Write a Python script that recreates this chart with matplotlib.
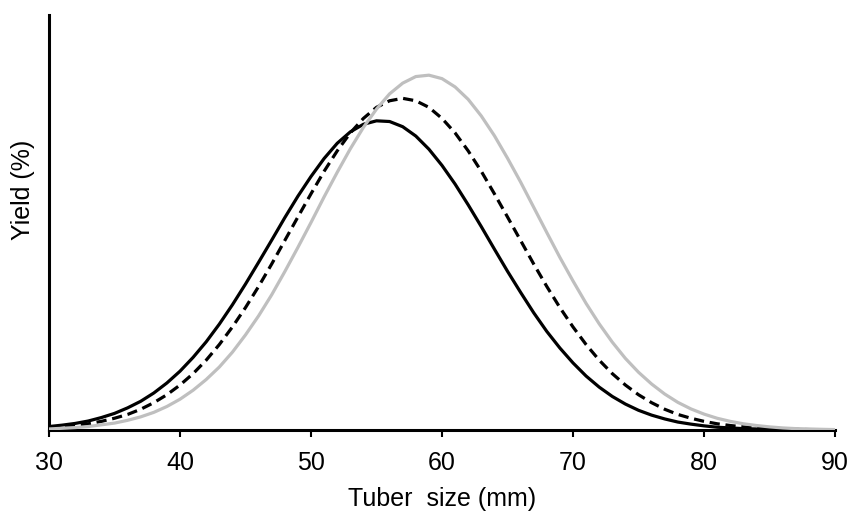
import matplotlib.pyplot as plt

# tuber size classes (mm) and yield, 1 mm steps
size_mm = list(range(30, 91))

yield_black = [0.10, 0.14, 0.19, 0.26, 0.36, 0.48, 0.64, 0.83, 1.07, 1.36,
               1.70, 2.10, 2.55, 3.06, 3.62, 4.22, 4.85, 5.49, 6.14, 6.76,
               7.33, 7.85, 8.29, 8.62, 8.84, 8.94, 8.92, 8.77, 8.50, 8.12,
               7.65, 7.11, 6.51, 5.88, 5.23, 4.59, 3.98, 3.39, 2.85, 2.37,
               1.94, 1.56, 1.24, 0.97, 0.75, 0.57, 0.43, 0.32, 0.23, 0.17,
               0.12, 0.08, 0.06, 0.04, 0.03, 0.02, 0.01, 0.007, 0.005, 0.003,
               0.002]

yield_dashed = [0.06, 0.09, 0.13, 0.18, 0.25, 0.34, 0.45, 0.60, 0.79, 1.02,
                1.30, 1.63, 2.02, 2.47, 2.98, 3.54, 4.15, 4.80, 5.48, 6.16,
                6.83, 7.48, 8.07, 8.59, 9.01, 9.33, 9.52, 9.59, 9.52, 9.33,
                9.01, 8.59, 8.07, 7.48, 6.83, 6.16, 5.48, 4.80, 4.15, 3.54,
                2.98, 2.47, 2.02, 1.63, 1.30, 1.02, 0.79, 0.60, 0.45, 0.34,
                0.25, 0.18, 0.13, 0.09, 0.06, 0.04, 0.03, 0.02, 0.012, 0.008,
                0.005]

yield_grey = [0.03, 0.05, 0.07, 0.10, 0.15, 0.20, 0.28, 0.38, 0.51, 0.68,
              0.89, 1.15, 1.46, 1.82, 2.25, 2.75, 3.30, 3.91, 4.58, 5.28,
              6.00, 6.74, 7.45, 8.13, 8.75, 9.28, 9.72, 10.03, 10.22, 10.26,
              10.16, 9.92, 9.56, 9.08, 8.51, 7.86, 7.17, 6.44, 5.71, 4.99,
              4.31, 3.66, 3.07, 2.54, 2.07, 1.67, 1.33, 1.04, 0.80, 0.61,
              0.46, 0.34, 0.25, 0.18, 0.13, 0.09, 0.06, 0.04, 0.03, 0.02,
              0.012]

x_ticks = [30, 40, 50, 60, 70, 80, 90]

plt.rcParams["font.family"] = ["Liberation Sans", "DejaVu Sans"]

fig = plt.figure(figsize=(8.5, 5.14), dpi=100)
ax = fig.add_axes([49 / 850, 1 - 430 / 514, 786 / 850, 415 / 514])

ax.plot(size_mm, yield_black, color="black", lw=2.3, zorder=3,
        solid_joinstyle="round")
ax.plot(size_mm, yield_dashed, color="black", lw=2.3, zorder=3,
        dashes=(3.2, 1.8))
ax.plot(size_mm, yield_grey, color="#bfbfbf", lw=2.3, zorder=3,
        solid_joinstyle="round")

ax.set_xlim(30, 90)
ax.set_ylim(0, 12)
ax.set_xticks(x_ticks)
ax.set_yticks([])
ax.tick_params(axis="x", direction="out", length=5, width=1.5,
               labelsize=18, pad=10)

for side in ["top", "right"]:
    ax.spines[side].set_visible(False)
for side in ["left", "bottom"]:
    ax.spines[side].set_linewidth(2.2)

fig.text(23 / 850, 1 - 190 / 514, "Yield (%)", rotation=90,
         ha="center", va="center", fontsize=18)
fig.text(442 / 850, 1 - 499 / 514, "Tuber  size (mm)",
         ha="center", va="center", fontsize=18)

fig.savefig("out.png", dpi=100)
